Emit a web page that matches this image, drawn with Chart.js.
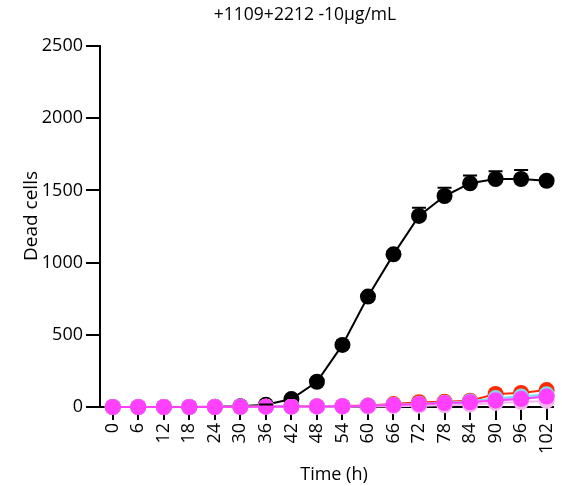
<!DOCTYPE html>
<html>
<head>
<meta charset="utf-8">
<script src="https://cdn.jsdelivr.net/npm/chart.js@4"></script>
<style>
  html, body { margin: 0; padding: 0; background: #fff; }
  #wrap { width: 562px; height: 486px; position: relative; }
</style>
</head>
<body>
<div id="wrap"><canvas id="chart"></canvas></div>
<script>
// --- data ---
const timeH = [0, 6, 12, 18, 24, 30, 36, 42, 48, 54, 60, 66, 72, 78, 84, 90, 96, 102];
const yTicks = [0, 500, 1000, 1500, 2000, 2500];

const black   = [0, 0, 0, 0, 2, 5, 15, 55, 175, 430, 765, 1057, 1323, 1461, 1549, 1579, 1579, 1567];
const blackErr = [0, 0, 0, 0, 0, 0, 3, 8, 10, 12, 15, 20, 57, 57, 55, 53, 62, 20];
const red     = [0, 0, 0, 0, 0, 2, 3, 4, 5, 7, 10, 20, 33, 37, 44, 90, 97, 117];
const cyan    = [0, 0, 0, 0, 0, 1, 2, 3, 4, 5, 8, 14, 22, 30, 38, 62, 72, 88];
const violet  = [0, 0, 0, 0, 0, 1, 2, 2, 3, 4, 6, 12, 18, 25, 32, 52, 60, 75];
const paleP   = [0, 0, 0, 0, 0, 0, 1, 1, 2, 3, 4, 6, 9, 12, 16, 28, 34, 42];
const magenta = [0, 0, 0, 0, 0, 1, 2, 3, 4, 5, 8, 13, 20, 27, 33, 45, 55, 72];

const pts = arr => arr.map((v, i) => ({ x: timeH[i], y: v }));

function series(data, color) {
  return {
    data: pts(data),
    borderColor: color,
    backgroundColor: color,
    borderWidth: 2,
    pointRadius: 8,
    pointHoverRadius: 8,
    pointBorderWidth: 0,
    clip: false
  };
}

const FONT = '"Open Sans", "DejaVu Sans", sans-serif';

// upper error bars on the black series
const errorBars = {
  id: 'errorBars',
  afterDatasetsDraw(chart) {
    const xs = chart.scales.x, ys = chart.scales.y;
    const ctx = chart.ctx;
    ctx.save();
    ctx.strokeStyle = '#000';
    ctx.lineWidth = 2;
    black.forEach((v, i) => {
      if (!blackErr[i]) return;
      const x = xs.getPixelForValue(timeH[i]);
      const y0 = ys.getPixelForValue(v);
      const y1 = ys.getPixelForValue(v + blackErr[i]);
      ctx.beginPath();
      ctx.moveTo(x, y0); ctx.lineTo(x, y1);
      ctx.moveTo(x - 7, y1); ctx.lineTo(x + 7, y1);
      ctx.stroke();
    });
    ctx.restore();
  }
};

// title + axis titles, placed like the original (not quite centred)
const labels = {
  id: 'labels',
  afterDraw(chart) {
    const ctx = chart.ctx;
    ctx.save();
    ctx.fillStyle = '#000';
    ctx.textAlign = 'center';
    ctx.textBaseline = 'middle';
    ctx.font = '17.5px ' + FONT;
    ctx.fillText('+1109+2212 -10µg/mL', 305, 15);
    ctx.font = '18px ' + FONT;
    ctx.fillText('Time (h)', 334, 475);
    ctx.translate(32, 216);
    ctx.rotate(-Math.PI / 2);
    ctx.font = '19px ' + FONT;
    ctx.fillText('Dead cells', 0, 0);
    ctx.restore();
  }
};

new Chart(document.getElementById('chart'), {
  type: 'line',
  data: {
    datasets: [
      series(magenta, '#FF40FF'),
      series(paleP, '#F2B8EE'),
      series(violet, '#B9A6FF'),
      series(cyan, '#6EE6F2'),
      series(red, '#FF2A00'),
      series(black, '#000000')
    ]
  },
  options: {
    responsive: true,
    maintainAspectRatio: false,
    animation: false,
    layout: { padding: { top: 46, right: 9, left: 0, bottom: 0 } },
    plugins: {
      legend: { display: false },
      tooltip: { enabled: false },
      title: { display: false }
    },
    scales: {
      x: {
        type: 'linear',
        min: -3,
        max: 103.5,
        afterBuildTicks: s => { s.ticks = timeH.map(v => ({ value: v })); },
        afterFit: s => { s.height = 79; s.paddingLeft = 0; s.paddingRight = 0; },
        grid: { drawOnChartArea: false, color: '#000', lineWidth: 2, tickLength: 13 },
        border: { color: '#000', width: 2 },
        ticks: {
          color: '#000',
          font: { family: FONT, size: 18 },
          minRotation: 90,
          maxRotation: 90,
          padding: 3,
          callback: v => String(v)
        }
      },
      y: {
        min: 0,
        max: 2500,
        afterBuildTicks: s => { s.ticks = yTicks.map(v => ({ value: v })); },
        afterFit: s => { s.width = 100; },
        grid: { drawOnChartArea: false, color: '#000', lineWidth: 2, tickLength: 14 },
        border: { color: '#000', width: 2 },
        ticks: {
          color: '#000',
          font: { family: FONT, size: 18 },
          padding: 3,
          callback: v => String(v)
        }
      }
    }
  },
  plugins: [errorBars, labels]
});
</script>
</body>
</html>
